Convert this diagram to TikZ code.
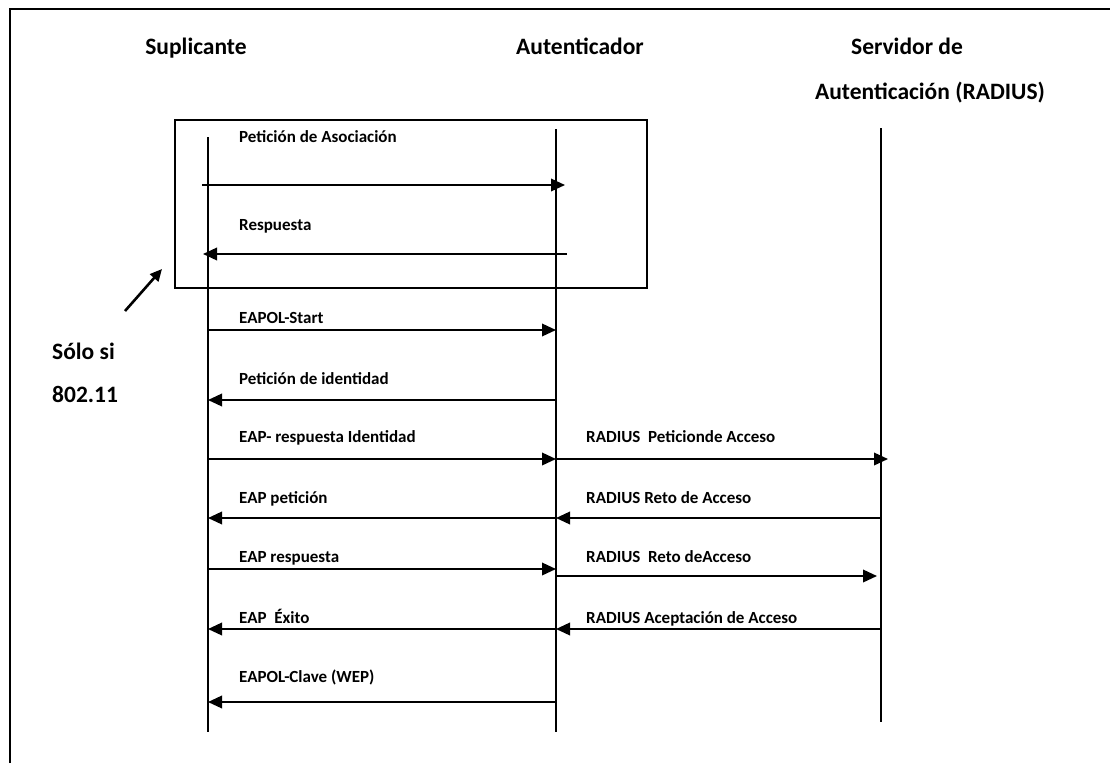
\documentclass[tikz,border=0pt]{standalone}
\usepackage{fontspec}
\setmainfont{Carlito}
\usetikzlibrary{arrows.meta}
\begin{document}
\begin{tikzpicture}[x=1pt,y=-1pt,
  hdr/.style={font=\fontsize{23.5}{26}\selectfont\bfseries, inner sep=0pt, anchor=base},
  msglabel/.style={font=\fontsize{17}{19}\selectfont\bfseries, inner sep=0pt, anchor=base west},
  lifeline/.style={line width=1.5pt},
  msg/.style={line width=2pt, -{Triangle[length=14pt,width=12.5pt]}},
  pointer/.style={line width=2.6pt, -{Triangle[length=12pt,width=11pt]}},
]
\useasboundingbox (0,0) rectangle (1110,763);
\fill[white] (0,0) rectangle (1110,763);

% outer frame (left and top edges)
\draw[line width=2pt] (10,763) -- (10,9) -- (1110,9);

% participants
\node[hdr] (hS)  at (196,54) {Suplicante};
\node[hdr] (hA)  at (580,54) {Autenticador};
\node[hdr] (hR1) at (907,54) {Servidor de};
\node[hdr] (hR2) at (930,99) {Autenticación (RADIUS)};

% lifelines
\coordinate (sTop) at (208,137); \coordinate (sBot) at (208,732);
\coordinate (aTop) at (556,129); \coordinate (aBot) at (556,732);
\coordinate (rTop) at (881,128); \coordinate (rBot) at (881,722);
\draw[lifeline] (sTop) -- (sBot);
\draw[lifeline] (aTop) -- (aBot);
\draw[lifeline] (rTop) -- (rBot);

% 802.11 association frame
\node[draw, line width=1.8pt, inner sep=0pt, minimum width=472pt, minimum height=168pt,
      anchor=north west] (assoc) at (174,119) {};

% note
\node[hdr, anchor=base west] (note1) at (52,359) {Sólo si};
\node[hdr, anchor=base west] (note2) at (52,402) {802.11};
\coordinate (pTail) at (125,311);
\coordinate (pTip) at (162,269);
\draw[pointer] (pTail) -- (pTip);

% message end points
\coordinate (m1a) at (202,185); \coordinate (m1b) at (565,185);
\coordinate (m2a) at (567,254); \coordinate (m2b) at (203,254);
\coordinate (m3a) at (208,330); \coordinate (m3b) at (556,330);
\coordinate (m4a) at (556,400); \coordinate (m4b) at (208,400);
\coordinate (m5a) at (208,459); \coordinate (m5b) at (556,459);
\coordinate (r5a) at (556,459); \coordinate (r5b) at (888,459);
\coordinate (m6a) at (556,518); \coordinate (m6b) at (208,518);
\coordinate (r6a) at (881,518); \coordinate (r6b) at (556,518);
\coordinate (m7a) at (208,569); \coordinate (m7b) at (556,569);
\coordinate (r7a) at (556,576); \coordinate (r7b) at (877,576);
\coordinate (m8a) at (556,629); \coordinate (m8b) at (208,629);
\coordinate (r8a) at (881,629); \coordinate (r8b) at (556,629);
\coordinate (m9a) at (556,702); \coordinate (m9b) at (208,702);

% messages
\draw[msg] (m1a) -- (m1b);
\draw[msg] (m2a) -- (m2b);
\draw[msg] (m3a) -- (m3b);
\draw[msg] (m4a) -- (m4b);
\draw[msg] (m5a) -- (m5b);
\draw[msg] (r5a) -- (r5b);
\draw[msg] (m6a) -- (m6b);
\draw[msg] (r6a) -- (r6b);
\draw[msg] (m7a) -- (m7b);
\draw[msg] (r7a) -- (r7b);
\draw[msg] (m8a) -- (m8b);
\draw[msg] (r8a) -- (r8b);
\draw[msg] (m9a) -- (m9b);

% message labels
\node[msglabel] (l1) at (239,142) {Petición de Asociación};
\node[msglabel] (l2) at (239,230) {Respuesta};
\node[msglabel] (l3) at (239,323) {EAPOL-Start};
\node[msglabel] (l4) at (239,384) {Petición de identidad};
\node[msglabel] (l5) at (239,442) {EAP- respuesta Identidad};
\node[msglabel] (k5) at (586,442) {RADIUS\ \ Peticionde Acceso};
\node[msglabel] (l6) at (239,503) {EAP petición};
\node[msglabel] (k6) at (586,503) {RADIUS Reto de Acceso};
\node[msglabel] (l7) at (239,562) {EAP respuesta};
\node[msglabel] (k7) at (586,562) {RADIUS\ \ Reto deAcceso};
\node[msglabel] (l8) at (239,623) {EAP\ \ Éxito};
\node[msglabel] (k8) at (586,623) {RADIUS Aceptación de Acceso};
\node[msglabel] (l9) at (239,682) {EAPOL-Clave (WEP)};
\end{tikzpicture}
\end{document}
